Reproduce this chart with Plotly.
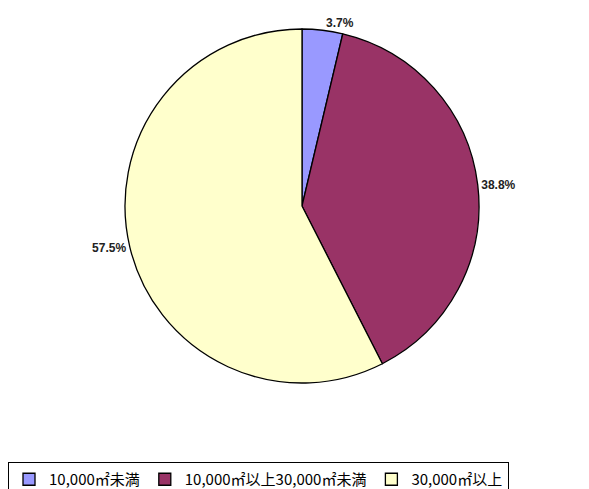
import plotly.graph_objects as go

categories = ["10,000㎡未満", "10,000㎡以上30,000㎡未満", "30,000㎡以上"]
values = [3.7, 38.8, 57.5]
colors = ["#9999FF", "#993366", "#FFFFCC"]

W, H = 589, 489
OFF = 8  # page body margin
cx, cy, d = 302 - OFF, 206 - OFF, 354

fig = go.Figure(go.Pie(
    labels=categories,
    values=values,
    sort=False,
    direction="clockwise",
    rotation=0,
    marker=dict(colors=colors, line=dict(color="#000000", width=1.3)),
    textposition="outside",
    texttemplate="<b>%{percent:.1%}</b>",
    textfont=dict(family="Liberation Sans", size=12, color="#222222"),
    domain=dict(x=[(cx - d / 2) / W, (cx + d / 2) / W],
                y=[(H - cy - d / 2) / H, (H - cy + d / 2) / H]),
    hoverinfo="label+percent",
))

fig.update_layout(
    width=W, height=H,
    margin=dict(l=0, r=0, t=0, b=0),
    paper_bgcolor="white",
    plot_bgcolor="white",
    showlegend=True,
    legend=dict(
        orientation="h",
        x=0 / W, xanchor="left",
        y=(H - (462 - OFF)) / H, yanchor="top",
        bordercolor="#000000", borderwidth=1,
        font=dict(family="Noto Sans CJK JP", size=15, color="#000000"),
        itemwidth=30,
        traceorder="normal",
    ),
)

fig.write_html("out.html")
